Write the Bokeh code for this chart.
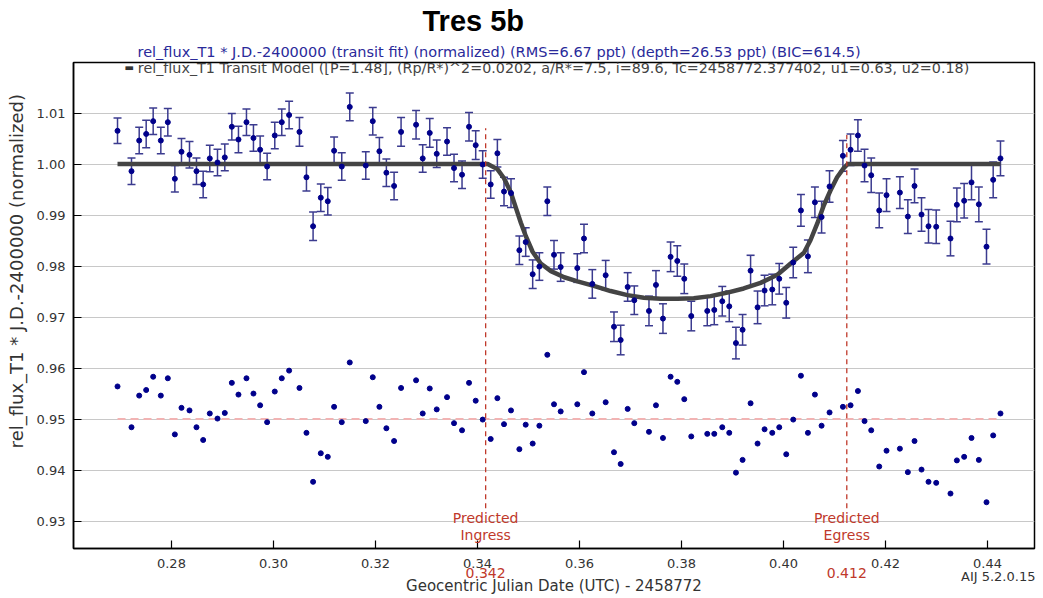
from bokeh.plotting import figure
from bokeh.models import (Range1d, Label, FixedTicker, NumeralTickFormatter, ColumnDataSource,
                          LinearAxis, Title)
from bokeh.embed import file_html
from bokeh.resources import INLINE

# ---------------- data ----------------
time = [0.26943, 0.27217, 0.27368, 0.27505, 0.27642, 0.27792, 0.27929, 0.28067, 0.28197, 0.28354,
        0.28491, 0.28622, 0.28752, 0.28903, 0.29046, 0.29184, 0.29314, 0.29471, 0.29608, 0.29739,
        0.29876, 0.30026, 0.30163, 0.30307, 0.30510, 0.30647, 0.30777, 0.30928, 0.31065, 0.31189,
        0.31339, 0.31496, 0.31810, 0.31947, 0.32077, 0.32214, 0.32365, 0.32502, 0.32796, 0.32926,
        0.33064, 0.33201, 0.33403, 0.33540, 0.33697, 0.33834, 0.33965, 0.34102, 0.34259, 0.34390,
        0.34520, 0.34657, 0.34821, 0.34945, 0.35082, 0.35213, 0.35369, 0.35500, 0.35631, 0.35957,
        0.36088, 0.36251, 0.36513, 0.36676, 0.36807, 0.36944, 0.37074, 0.37362, 0.37499, 0.37636,
        0.37786, 0.37917, 0.38054, 0.38191, 0.38505, 0.38642, 0.38799, 0.38936, 0.39067, 0.39197,
        0.39354, 0.39491, 0.39628, 0.39779, 0.39916, 0.40053, 0.40190, 0.40341, 0.40478, 0.40615,
        0.40746, 0.40902, 0.41164, 0.41314, 0.41458, 0.41588, 0.41719, 0.41876, 0.42019, 0.42281,
        0.42437, 0.42568, 0.42705, 0.42842, 0.42993, 0.43273, 0.43398, 0.43541, 0.43685, 0.43829,
        0.43979, 0.44110, 0.44253]

flux = [1.0065, 0.9986, 1.0046, 1.0059, 1.0084, 1.0046, 1.0082, 0.9971, 1.0024, 1.0018,
        0.9986, 0.9960, 1.0011, 1.0003, 1.0013, 1.0073, 1.0048, 1.0082, 1.0051, 1.0028,
        0.9995, 1.0056, 1.0082, 1.0096, 1.0063, 0.9974, 0.9878, 0.9934, 0.9927, 1.0026,
        0.9995, 1.0112, 0.9997, 1.0084, 1.0025, 0.9983, 0.9957, 1.0063, 1.0077, 1.0011,
        1.0061, 1.0020, 1.0044, 0.9992, 0.9979, 1.0073, 1.0037, 0.9999, 0.9960, 1.0021,
        0.9946, 0.9943, 0.9831, 0.9847, 0.9784, 0.9799, 0.9927, 0.9822, 0.9798, 0.9796,
        0.9854, 0.9765, 0.9782, 0.9681, 0.9655, 0.9759, 0.9733, 0.9712, 0.9763, 0.9697,
        0.9818, 0.9810, 0.9775, 0.9702, 0.9712, 0.9714, 0.9731, 0.9721, 0.9649, 0.9675,
        0.9791, 0.9719, 0.9752, 0.9754, 0.9775, 0.9728, 0.9807, 0.9909, 0.9819, 0.9925,
        0.9896, 0.9956, 1.0016, 1.0028, 1.0056, 0.9997, 0.9978, 0.9909, 0.9939, 0.9944,
        0.9897, 0.9957, 0.9901, 0.9878, 0.9877, 0.9854, 0.9920, 0.9928, 0.9964, 0.9921,
        0.9838, 0.9969, 1.0011]

flux_err = [0.0025, 0.0026, 0.0026, 0.0027, 0.0026, 0.0026, 0.0027, 0.0026, 0.0026, 0.0026,
            0.0026, 0.0026, 0.0026, 0.0026, 0.0026, 0.0026, 0.0026, 0.0026, 0.0026, 0.0027,
            0.0026, 0.0026, 0.0026, 0.0027, 0.0028, 0.0027, 0.0028, 0.0027, 0.0027, 0.0027,
            0.0027, 0.0027, 0.0027, 0.0027, 0.0027, 0.0027, 0.0027, 0.0028, 0.0028, 0.0027,
            0.0028, 0.0027, 0.0027, 0.0027, 0.0027, 0.0028, 0.0028, 0.0027, 0.0027, 0.0027,
            0.0028, 0.0028, 0.0028, 0.0028, 0.0028, 0.0027, 0.0028, 0.0028, 0.0028, 0.0028,
            0.0028, 0.0028, 0.0029, 0.0029, 0.0029, 0.0028, 0.0028, 0.0029, 0.0028, 0.0029,
            0.0029, 0.0030, 0.0029, 0.0029, 0.0029, 0.0029, 0.0029, 0.0030, 0.0031, 0.0030,
            0.0030, 0.0032, 0.0030, 0.0030, 0.0030, 0.0030, 0.0030, 0.0031, 0.0032, 0.0030,
            0.0031, 0.0031, 0.0030, 0.0031, 0.0031, 0.0032, 0.0034, 0.0034, 0.0032, 0.0031,
            0.0033, 0.0033, 0.0033, 0.0033, 0.0033, 0.0034, 0.0033, 0.0034, 0.0034, 0.0034,
            0.0034, 0.0035, 0.0034]

resid = [0.9564, 0.9484, 0.9546, 0.9557, 0.9583, 0.9546, 0.9580, 0.9470, 0.9522, 0.9517,
         0.9484, 0.9459, 0.9511, 0.9501, 0.9512, 0.9571, 0.9548, 0.9580, 0.9550, 0.9527,
         0.9494, 0.9554, 0.9580, 0.9595, 0.9561, 0.9473, 0.9377, 0.9433, 0.9426, 0.9524,
         0.9494, 0.9611, 0.9496, 0.9582, 0.9524, 0.9482, 0.9457, 0.9561, 0.9576, 0.9511,
         0.9560, 0.9519, 0.9543, 0.9492, 0.9478, 0.9571, 0.9536, 0.9499, 0.9461, 0.9541,
         0.9490, 0.9517, 0.9441, 0.9489, 0.9452, 0.9487, 0.9626, 0.9529, 0.9515, 0.9529,
         0.9592, 0.9511, 0.9533, 0.9435, 0.9412, 0.9520, 0.9492, 0.9475, 0.9527, 0.9463,
         0.9583, 0.9573, 0.9539, 0.9466, 0.9471, 0.9471, 0.9484, 0.9473, 0.9395, 0.9420,
         0.9531, 0.9452, 0.9480, 0.9473, 0.9484, 0.9431, 0.9499, 0.9585, 0.9473, 0.9548,
         0.9487, 0.9513, 0.9524, 0.9527, 0.9555, 0.9496, 0.9478, 0.9407, 0.9438, 0.9442,
         0.9396, 0.9457, 0.9401, 0.9377, 0.9375, 0.9354, 0.9419, 0.9426, 0.9463, 0.9420,
         0.9337, 0.9468, 0.9511]

model_time = [0.26943, 0.3420, 0.3439, 0.3452, 0.3465, 0.3475, 0.3485, 0.3495, 0.3508, 0.3524,
              0.3544, 0.3570, 0.3596, 0.3628, 0.3661, 0.3694, 0.3726, 0.3759, 0.3792, 0.3824,
              0.3857, 0.3890, 0.3922, 0.3955, 0.3988, 0.4014, 0.4040, 0.4053, 0.4066, 0.4079,
              0.4092, 0.4105, 0.4118, 0.4126, 0.44253]
model_flux = [1.0000, 1.0000, 0.9990, 0.9972, 0.9945, 0.9915, 0.9885, 0.9858, 0.9828, 0.9805,
              0.9790, 0.9778, 0.9770, 0.9761, 0.9751, 0.9743, 0.9738, 0.9736, 0.9736, 0.9737,
              0.9741, 0.9748, 0.9756, 0.9767, 0.9783, 0.9805, 0.9826, 0.9851, 0.9883, 0.9919,
              0.9948, 0.9974, 0.9992, 1.0000, 1.0000]

pred_time = [0.3416, 0.4124]          # predicted ingress / egress
pred_top = [1.0070, 1.0057]
pred_bottom = 0.9325
pred_name = ["Ingress", "Egress"]
resid_baseline = 0.95

x_ticks = [0.28, 0.30, 0.32, 0.34, 0.36, 0.38, 0.40, 0.42, 0.44]
y_ticks = [0.93, 0.94, 0.95, 0.96, 0.97, 0.98, 0.99, 1.00, 1.01, 1.02]

title_text = "Tres 5b"
legend_fit = "rel_flux_T1 * J.D.-2400000 (transit fit) (normalized) (RMS=6.67 ppt) (depth=26.53 ppt) (BIC=614.5)"
legend_model = "rel_flux_T1 Transit Model ([P=1.48], (Rp/R*)^2=0.0202, a/R*=7.5, i=89.6, Tc=2458772.377402, u1=0.63, u2=0.18)"
x_label = "Geocentric Julian Date (UTC) - 2458772"
y_label = "rel_flux_T1 * J.D.-2400000 (normalized)"
version_text = "AIJ 5.2.0.15"

# ---------------- styles ----------------
FONT = "DejaVu Sans"
PT = "#00008b"
BAR = "#3b3b8f"
RED = "#c0392b"
TXT = "#333333"

upper = [f + e for f, e in zip(flux, flux_err)]
lower = [f - e for f, e in zip(flux, flux_err)]
src = ColumnDataSource(dict(t=time, f=flux, up=upper, lo=lower, r=resid))

p = figure(width=1043, height=598, output_backend="svg", toolbar_location=None,
           x_range=Range1d(0.2608, 0.4492), y_range=Range1d(0.92463, 1.0199),
           min_border_left=73, min_border_right=9, min_border_top=62, min_border_bottom=50,
           background_fill_color="white", border_fill_color="white")

# header texts as titles
p.title.text = title_text
p.title.align = "left"
p.title.offset = 349
p.title.text_font = "Liberation Sans"
p.title.text_font_size = "29px"
p.title.text_font_style = "bold"
p.title.text_color = "black"
p.title.standoff = 3
fit_title = Title(text=legend_fit, align="left", offset=64, text_font=FONT,
                  text_font_size="14.5px", text_font_style="normal", text_color="#2a2a9a",
                  standoff=6)
p.add_layout(fit_title, "above")

p.outline_line_color = "black"
p.outline_line_width = 1.5
p.xgrid.visible = False
p.ygrid.grid_line_color = "#c8c8c8"
p.ygrid.grid_line_width = 1

for ax in (p.xaxis[0], p.yaxis[0]):
    ax.axis_line_color = "black"
    ax.axis_line_width = 1.5
    ax.major_tick_in = 8
    ax.major_tick_out = 0
    ax.major_tick_line_color = "black"
    ax.major_tick_line_width = 1.2
    ax.minor_tick_line_color = None
    ax.major_label_text_font = FONT
    ax.major_label_text_font_size = "13px"
    ax.major_label_text_color = TXT
    ax.formatter = NumeralTickFormatter(format="0.00")
    ax.axis_label_text_font = FONT
    ax.axis_label_text_font_style = "normal"
    ax.axis_label_text_color = TXT

p.xaxis.ticker = FixedTicker(ticks=x_ticks)
p.yaxis.ticker = FixedTicker(ticks=y_ticks)
p.xaxis.major_label_standoff = 10
p.yaxis.major_label_standoff = 8

# y axis label (shifted upward like the reference)
p.yaxis.axis_label = "\u00a0" * 12 + y_label
p.yaxis.axis_label_text_font_size = "18px"
p.yaxis.axis_label_standoff = 7

# main x axis carries the version string at the right
xax = p.xaxis[0]
try:
    xax.axis_label_align = "right"
    xax.axis_label = version_text
except Exception:
    xax.axis_label = "\u00a0" * 215 + version_text
xax.axis_label_text_font_size = "13px"
xax.axis_label_standoff = -2

# second axis: predicted times in red + main x label
pred_axis = LinearAxis(ticker=FixedTicker(ticks=pred_time),
                       formatter=NumeralTickFormatter(format="0.000"),
                       axis_line_color=None, major_tick_line_color=None,
                       minor_tick_line_color=None, major_tick_in=0, major_tick_out=0,
                       major_label_standoff=-19, major_label_text_font=FONT,
                       major_label_text_font_size="14px", major_label_text_color=RED,
                       axis_label=x_label, axis_label_text_font=FONT,
                       axis_label_text_font_size="15px", axis_label_text_font_style="normal",
                       axis_label_text_color=TXT, axis_label_standoff=-4)
p.add_layout(pred_axis, "below")

# residual baseline
p.line([min(time), max(time)], [resid_baseline, resid_baseline], line_color="#f2b3b3",
       line_width=2, line_dash="8 5")

# error bars
p.segment(x0="t", y0="lo", x1="t", y1="up", source=src, line_color=BAR, line_width=1.5)
p.scatter(x="t", y="up", source=src, marker="dash", size=8, line_color=BAR, line_width=1.5)
p.scatter(x="t", y="lo", source=src, marker="dash", size=8, line_color=BAR, line_width=1.5)

# model
p.line(model_time, model_flux, line_color="#444444", line_width=4.5)

# points and residuals
p.scatter(x="t", y="f", source=src, marker="circle", size=5, fill_color=PT, line_color=PT)
p.scatter(x="t", y="r", source=src, marker="circle", size=5, fill_color=PT, line_color=PT)

# predicted ingress / egress markers
for t, top, name in zip(pred_time, pred_top, pred_name):
    p.segment(x0=[t], y0=[pred_bottom], x1=[t], y1=[top], line_color=RED, line_width=1.3,
              line_dash="5 4")
    p.add_layout(Label(x=t, y=0.93052, text="Predicted", text_align="center",
                       text_baseline="middle", text_font=FONT, text_font_size="14px",
                       text_color=RED))
    p.add_layout(Label(x=t, y=0.92718, text=name, text_align="center",
                       text_baseline="middle", text_font=FONT, text_font_size="14px",
                       text_color=RED))

# model legend entry (inside the frame)
p.add_layout(Label(x=0.27342, y=1.01884, text=legend_model, text_align="left",
                   text_baseline="middle", text_font=FONT, text_font_size="14.3px",
                   text_color="#444444"))
p.add_layout(Label(x=0.27342, y=1.01884, x_offset=-4, text="\u25ac", text_align="right",
                   text_baseline="middle", text_font=FONT, text_font_size="10px",
                   text_color="#333333"))

open("out.html", "w").write(file_html(p, INLINE))
